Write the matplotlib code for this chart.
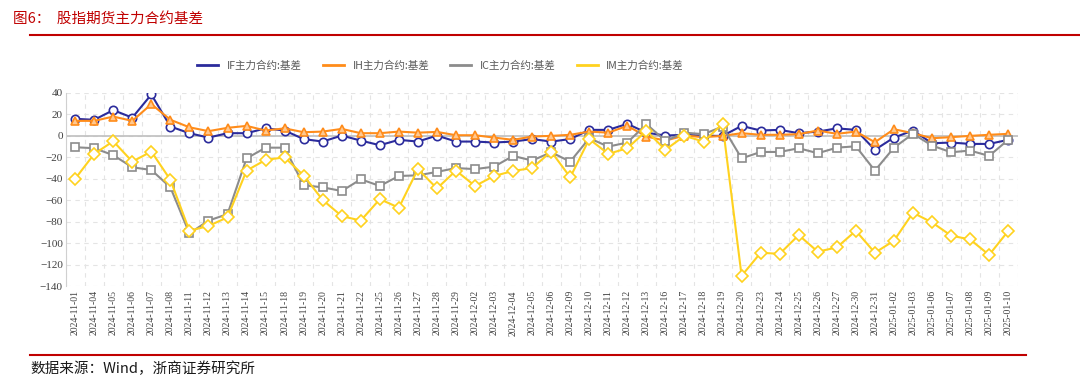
import numpy as np
import matplotlib.pyplot as plt
from matplotlib.ticker import FixedLocator

plt.rcParams['font.family'] = ['Noto Sans CJK SC', 'DejaVu Sans']

# data
dates = ['2024-11-01', '2024-11-04', '2024-11-05', '2024-11-06', '2024-11-07', '2024-11-08',
         '2024-11-11', '2024-11-12', '2024-11-13', '2024-11-14', '2024-11-15', '2024-11-18',
         '2024-11-19', '2024-11-20', '2024-11-21', '2024-11-22', '2024-11-25', '2024-11-26',
         '2024-11-27', '2024-11-28', '2024-11-29', '2024-12-02', '2024-12-03', '2024-12-04',
         '2024-12-05', '2024-12-06', '2024-12-09', '2024-12-10', '2024-12-11', '2024-12-12',
         '2024-12-13', '2024-12-16', '2024-12-17', '2024-12-18', '2024-12-19', '2024-12-20',
         '2024-12-23', '2024-12-24', '2024-12-25', '2024-12-26', '2024-12-27', '2024-12-30',
         '2024-12-31', '2025-01-02', '2025-01-03', '2025-01-06', '2025-01-07', '2025-01-08',
         '2025-01-09', '2025-01-10']

if_basis = [15.9, 15, 24, 17, 38.6, 8.7, 2.5, -1.6, 2.5, 2.5, 7, 5, -3, -5.3, 0.3, -4.4, -8.7,
            -3.7, -5.3, 0.3, -5.3, -5.3, -6.2, -5.3, -3, -5.3, -3, 5.6, 5.6, 11.2, 3, 0.3, 1,
            0, 0, 9.3, 5, 5.6, 2.5, 4, 7, 5.6, -13, -1.6, 5, -6.9, -6.2, -7.5, -7.5, -3.7]
ih_basis = [14, 14, 18, 14, 29.6, 15, 8, 4.4, 7.5, 9.3, 5, 7, 3.4, 4, 6.5, 2.5, 2.5, 4, 3, 3.7,
            0.6, 0.6, -1.6, -3.7, -0.6, 0, 1, 4, 3, 9.3, -0.6, -4.4, 0.3, -1.2, 0, 2.5, 1, 1,
            1.6, 5, 1.9, 4, -5.9, 6.2, 2.5, -2.2, -1.2, 0, 1, 1.9]
ic_basis = [-10.6, -11.5, -18, -29.3, -31.8, -48, -91, -79, -73, -21, -11, -11, -46, -48, -51.4,
            -40.5, -46.7, -37.4, -36.8, -33.6, -30, -31, -28.7, -18.7, -23, -15.3, -24, -2.2,
            -10, -6.2, 11, -4.7, 3, 1.6, 8.7, -21, -15, -15, -11.5, -16.2, -11, -9.7, -32.4,
            -11, 1.9, -9, -15.3, -13.7, -18.7, -3.7]
im_basis = [-40, -16.8, -5, -24, -14.6, -41, -88.5, -84, -76, -32.4, -22.4, -20, -37, -59.8,
            -74.8, -79, -59, -67, -31, -49, -32.4, -46.7, -37.4, -32.7, -30, -14.6, -38.6, -3,
            -16.8, -11.5, 4.7, -13, 0, -5.3, 11.2, -130.5, -109, -110, -92.5, -108, -104, -88.5,
            -109, -97.8, -71.7, -80.7, -93, -96.6, -111, -88.8]

SERIES = [
    ('IF主力合约:基差', if_basis, '#2B2B9C', 'o', 'white'),
    ('IH主力合约:基差', ih_basis, '#FF8C1A', '^', '#FFC890'),
    ('IC主力合约:基差', ic_basis, '#8C8C8C', 's', 'white'),
    ('IM主力合约:基差', im_basis, '#FFD21F', 'D', 'white'),
]
RED = '#C00000'


def makePlot():
    fig = plt.figure(figsize=(10.8, 3.92), dpi=100)
    ax = fig.add_axes([0.0608, 0.2704, 0.8815, 0.4924])
    x = np.arange(len(dates))

    for name, vals, color, marker, face in SERIES:
        ax.plot(x, vals, color=color, linewidth=1.5, marker=marker, markersize=6,
                markerfacecolor=face, markeredgecolor=color, markeredgewidth=1.2,
                label=name, zorder=3)

    ax.set_xlim(-0.5, len(dates) - 0.5)
    ax.set_ylim(-140, 40)
    ax.set_yticks(np.arange(-140, 41, 20))
    ax.set_xticks(x)
    ax.set_xticklabels(dates, rotation=90, fontsize=7, family='Liberation Serif', color='#404040')
    ax.xaxis.set_minor_locator(FixedLocator(np.arange(-0.5, len(dates), 1)))
    for lab in ax.get_yticklabels():
        lab.set_family('Liberation Serif')
        lab.set_fontsize(8)
        lab.set_color('#404040')
    ax.tick_params(axis='x', which='major', length=0, pad=3)
    ax.tick_params(axis='x', which='minor', length=0)
    ax.tick_params(axis='y', length=0, pad=2)

    ax.grid(True, axis='y', which='major', linestyle=(0, (4, 4)), color='#E4E4E4', linewidth=0.8)
    ax.grid(True, axis='x', which='minor', linestyle=(0, (4, 4)), color='#E4E4E4', linewidth=0.8)
    ax.axhline(0, color='#BFBFBF', linewidth=1.2, zorder=2)
    for s in ['top', 'right', 'bottom']:
        ax.spines[s].set_visible(False)
    ax.spines['left'].set_color('#D0D0D0')

    leg_handles = [plt.Line2D([0], [0], color=c, linewidth=2) for _, _, c, _, _ in SERIES]
    fig.legend(leg_handles, [s[0] for s in SERIES], loc='center', bbox_to_anchor=(0.408, 0.832),
               ncol=4, frameon=False, fontsize=7.6, handlelength=2.0, handletextpad=0.8,
               columnspacing=2.0, labelcolor='#595959')

    # title, rules and source note
    fig.text(0.012, 0.952, '图6：  股指期货主力合约基差', color=RED, fontsize=10.5, va='center')
    fig.add_artist(plt.Line2D([0.028, 1.0], [0.91, 0.91], color=RED, linewidth=1.5))
    fig.add_artist(plt.Line2D([0.028, 0.95], [0.094, 0.094], color=RED, linewidth=1.5))
    fig.text(0.028, 0.06, '数据来源：Wind，浙商证券研究所', color='#1A1A1A', fontsize=10.5, va='center')

    fig.savefig('out.png', dpi=100)


makePlot()
